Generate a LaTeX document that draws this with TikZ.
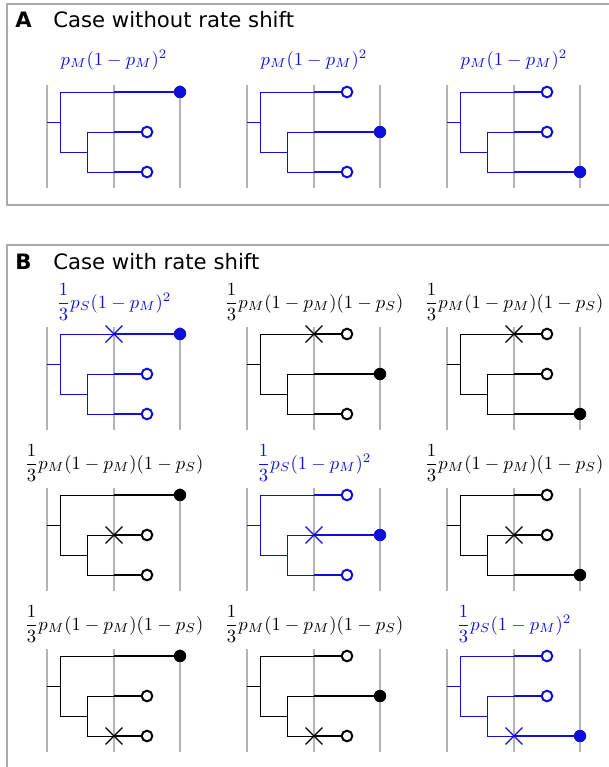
\documentclass[tikz,border=0pt]{standalone}
\usepackage{amsmath}
\usepackage{graphicx}
\usepackage{fontspec}
\setsansfont{DejaVu Sans}
\usetikzlibrary{shapes.misc}
\definecolor{mblue}{RGB}{15,15,215}
\definecolor{lgray}{RGB}{180,180,180}
\definecolor{fgray}{RGB}{170,170,170}
\tikzset{
  guide/.style={draw=lgray, line width=0.6pt},
  frame/.style={draw=fgray, line width=0.65pt},
  thinbr/.style={line width=0.5pt},
  thickbr/.style={line width=1pt},
  opentip/.style={circle, draw=#1, fill=white, line width=1pt, minimum size=5.3pt, inner sep=0pt},
  filledtip/.style={circle, draw=#1, fill=#1, line width=0.4pt, minimum size=5.8pt, inner sep=0pt},
  crossmark/.style={cross out, draw=#1, line width=0.6pt, minimum size=7.8pt, inner sep=0pt},
  lab/.style={anchor=base},
  paneltitle/.style={anchor=base west, inner sep=0pt, font=\sffamily\fontsize{10.6}{13}\selectfont},
}
\newcommand{\shrink}[1]{\scalebox{0.93}{#1}}
% #1 prefix, #2 ox, #3 oy, #4 filled branch, #5 crossed branch, #6 colour, #7 label, #8 label baseline offset
\newcommand{\phylo}[8]{%
\begin{scope}[shift={(#2,#3)}]
  \foreach \gx in {0,67,133} \draw[guide] (\gx,-7) -- (\gx,96);
  \node[lab, text=#6] (#1-lab) at (67,#8) {\shrink{#7}};
  \coordinate (#1-r) at (0,30);
  \coordinate (#1-n1) at (13,30);
  \coordinate (#1-n1t) at (13,0);
  \coordinate (#1-n1b) at (13,60);
  \coordinate (#1-n2) at (40,60);
  \coordinate (#1-n2t) at (40,40);
  \coordinate (#1-n2b) at (40,80);
  \draw[thinbr,#6] (#1-r) -- (#1-n1);
  \draw[thinbr,#6] (#1-n1t) -- (#1-n1b) -- (#1-n2);
  \draw[thinbr,#6] (#1-n2t) -- (#1-n2b);
  \foreach \k/\by/\bx in {1/0/13, 2/40/40, 3/80/40} {
    \ifnum\k=#4
      \node[filledtip=#6] (#1-t\k) at (133,\by) {};
    \else
      \node[opentip=#6] (#1-t\k) at (100,\by) {};
    \fi
    \coordinate (#1-s\k) at (\bx,\by);
    \coordinate (#1-m\k) at (67,\by);
    \draw[thinbr,#6] (#1-s\k) -- (#1-m\k);
    \draw[thickbr,#6] (#1-m\k) -- (#1-t\k);
    \ifnum\k=#5
      \node[crossmark=#6] (#1-x) at (#1-m\k) {};
    \fi
  }
\end{scope}}
\begin{document}
\begin{tikzpicture}[x=0.5pt,y=-0.5pt]
\useasboundingbox (0,0) rectangle (609,767);
\clip (0,0) rectangle (609,767);
% panel frames
\draw[frame] (615,4) -- (7,4) -- (7,205) -- (615,205);
\draw[frame] (615,245) -- (7,245) -- (7,775);
% titles
\node[paneltitle, font=\sffamily\bfseries\fontsize{10.6}{13}\selectfont] (tA) at (15,27) {A};
\node[paneltitle] (tAt) at (53,27) {Case without rate shift};
\node[paneltitle, font=\sffamily\bfseries\fontsize{10.6}{13}\selectfont] (tB) at (15,269) {B};
\node[paneltitle] (tBt) at (53,269) {Case with rate shift};
% panel A
\foreach \c/\ox in {1/47,2/247,3/447}
  \phylo{A\c}{\ox}{92}{\c}{0}{mblue}{$p_M(1-p_M)^2$}{-27};
% panel B
\foreach \r/\oy in {1/334,2/495,3/656}{
  \foreach \c/\ox in {1/47,2/247,3/447}{
    \ifnum\r=\c
      \phylo{B\r\c}{\ox}{\oy}{\c}{\r}{mblue}{$\dfrac{1}{3}p_S(1-p_M)^2$}{-26}
    \else
      \phylo{B\r\c}{\ox}{\oy}{\c}{\r}{black}{$\dfrac{1}{3}p_M(1-p_M)(1-p_S)$}{-26}
    \fi
  }
}
\end{tikzpicture}
\end{document}
